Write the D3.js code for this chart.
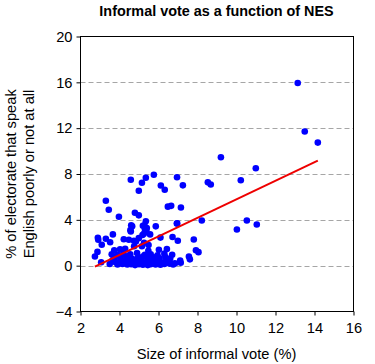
<!DOCTYPE html>
<html>
<head>
<meta charset="utf-8">
<script src="https://cdn.jsdelivr.net/npm/d3@7"></script>
<style>
  html, body { margin: 0; padding: 0; background: #fff; }
  svg { display: block; font-family: "Liberation Sans", Arial, sans-serif; }
</style>
</head>
<body>
<svg id="chart" width="375" height="364"></svg>
<script>
// ---- data ----
const chartTitle = "Informal vote as a function of NES";
const xTitle = "Size of informal vote (%)";
const yTitleLines = ["% of electorate that speak", "English poorly or not at all"];
const xTicks = [2, 4, 6, 8, 10, 12, 14, 16];
const yTicks = [-4, 0, 4, 8, 12, 16, 20];
const gridValues = [0, 4, 8, 12, 16];

// informal vote (%)
const informalVote = [
  4.58, 5.35, 5.76, 5.15, 4.99, 6.12, 6.32, 6.95,
  3.30, 3.45, 3.97, 4.79, 4.99, 6.48, 6.65,
  5.35, 4.65, 5.20, 5.40, 4.58, 5.86, 6.96,
  3.66, 2.89, 2.91, 3.30, 3.52, 3.09, 4.22, 4.48, 4.74, 4.99, 5.25, 5.38, 5.18, 5.57,
  6.10, 6.72, 6.99,
  7.81, 7.92, 8.05, 7.56, 7.61, 7.11, 7.14, 6.84, 6.56,
  9.20, 10.99, 7.25, 8.53, 8.68, 10.22, 7.15, 8.22, 6.94, 10.53, 10.02, 11.04,
  13.14, 13.50, 14.17,
  3.73, 4.03, 4.29, 4.75, 5.15, 5.49, 5.48, 6.02, 6.43, 2.87, 2.74, 3.06,
  4.60, 4.56, 5.28, 5.30, 4.84, 5.26,
  3.90, 4.20, 4.55, 4.90, 5.30, 5.60, 5.95, 6.30, 6.70, 3.60,
  3.75, 4.05, 4.35, 4.65, 4.95, 5.20, 5.45, 5.75, 6.05, 6.35, 6.60, 4.45, 5.05, 5.85,
  3.65, 3.80, 4.05, 4.25, 4.50, 4.70, 4.90, 5.10, 5.30, 5.50, 5.70, 5.95, 6.15, 6.40, 6.55, 4.35, 5.40,
  3.50, 3.90, 4.15, 4.40, 4.60, 4.80, 5.00, 5.20, 5.45, 5.60, 5.85, 6.10, 6.30, 6.75, 4.95, 5.65
];
// % of electorate speaking English poorly or not at all
const nesShare = [
  7.50, 7.67, 7.94, 7.24, 6.54, 7.00, 6.63, 7.72,
  5.67, 4.88, 4.27, 4.62, 4.39, 5.15, 5.22,
  3.87, 3.43, 3.49, 3.28, 2.99, 3.43, 3.69,
  2.73, 2.43, 2.27, 2.35, 2.05, 1.82, 2.30, 2.26, 2.18, 2.40, 2.78, 3.02, 2.67, 2.73,
  2.45, 2.50, 2.17,
  2.28, 1.35, 1.18, 0.80, 0.55, 0.44, 0.26, 0.20, 0.18,
  9.46, 8.50, 7.01, 7.27, 7.09, 7.45, 5.08, 3.94, 3.68, 3.94, 3.15, 3.59,
  15.94, 11.71, 10.74,
  1.34, 1.42, 1.48, 1.69, 1.69, 1.80, 1.30, 1.38, 1.45, 1.20, 0.80, 0.30,
  3.53, 3.10, 3.53, 3.20, 2.11, 2.00,
  0.95, 1.05, 1.00, 1.10, 0.95, 1.00, 0.90, 1.05, 0.95, 1.00,
  0.70, 0.65, 0.75, 0.60, 0.70, 0.80, 0.60, 0.72, 0.65, 0.75, 0.62, 0.85, 0.50, 0.45,
  0.50, 0.30, 0.40, 0.30, 0.45, 0.35, 0.25, 0.40, 0.30, 0.45, 0.30, 0.40, 0.30, 0.45, 0.25, 0.55, 0.20,
  0.15, 0.10, 0.15, 0.10, 0.12, 0.05, 0.12, 0.08, 0.05, 0.12, 0.10, 0.08, 0.15, 0.10, 0.30, 0.25
];
// fitted regression line
const fitIntercept = -2.29;
const fitSlope = 0.808;

// ---- layout ----
const svg = d3.select("#chart");
const pLeft = 80.5, pRight = 353.5, pTop = 36.5, pBottom = 311.5;
const fontSize = "14.67px";

const x = d3.scaleLinear().domain([2, 16]).range([pLeft, pRight]);
const y = d3.scaleLinear().domain([-4, 20]).range([pBottom, pTop]);

// gridlines
svg.append("g").selectAll("line").data(gridValues).join("line")
  .attr("x1", pLeft).attr("x2", pRight)
  .attr("y1", d => Math.round(y(d)) + 0.5).attr("y2", d => Math.round(y(d)) + 0.5)
  .attr("stroke", "#a6a6a6").attr("stroke-width", 1)
  .attr("stroke-dasharray", "5,3");

// axes (outer ticks)
const xAxis = d3.axisBottom(x).tickValues(xTicks).tickSize(4).tickSizeOuter(0).tickPadding(7);
const yAxis = d3.axisLeft(y).tickValues(yTicks).tickSize(4).tickSizeOuter(0).tickPadding(4);

const gx = svg.append("g").attr("transform", `translate(0,${pBottom})`).call(xAxis);
const gy = svg.append("g").attr("transform", `translate(${pLeft},0)`).call(yAxis);
[gx, gy].forEach(g => {
  g.select(".domain").remove();
  g.selectAll("line").attr("stroke", "#000");
  g.selectAll("text").attr("fill", "#000").style("font-size", fontSize)
    .style("font-family", "'Liberation Sans', Arial, sans-serif");
});

// points
const pts = informalVote.map((v, i) => ({ x: v, y: nesShare[i] }));
svg.append("g").selectAll("circle").data(pts).join("circle")
  .attr("cx", d => x(d.x)).attr("cy", d => y(d.y))
  .attr("r", 3.3).attr("fill", "#0000ff");

// regression line over data range
const xr = d3.extent(informalVote);
svg.append("line")
  .attr("x1", x(xr[0])).attr("y1", y(fitIntercept + fitSlope * xr[0]))
  .attr("x2", x(xr[1])).attr("y2", y(fitIntercept + fitSlope * xr[1]))
  .attr("stroke", "#ee0000").attr("stroke-width", 2);

// frame
svg.append("rect").attr("x", pLeft).attr("y", pTop)
  .attr("width", pRight - pLeft).attr("height", pBottom - pTop)
  .attr("fill", "none").attr("stroke", "#000").attr("stroke-width", 1);

// titles
svg.append("text").attr("x", 216.5).attr("y", 15.5)
  .attr("text-anchor", "middle").style("font-size", "14.4px").style("font-weight", "bold")
  .attr("fill", "#000").text(chartTitle);

svg.append("text").attr("x", 216.5).attr("y", 358.5)
  .attr("text-anchor", "middle").style("font-size", fontSize)
  .attr("fill", "#000").text(xTitle);

const yBase = [16, 34];
yTitleLines.forEach((t, i) => {
  svg.append("text")
    .attr("transform", `translate(${yBase[i]},${(pTop + pBottom) / 2}) rotate(-90)`)
    .attr("text-anchor", "middle").style("font-size", fontSize)
    .attr("fill", "#000").text(t);
});
</script>
</body>
</html>
